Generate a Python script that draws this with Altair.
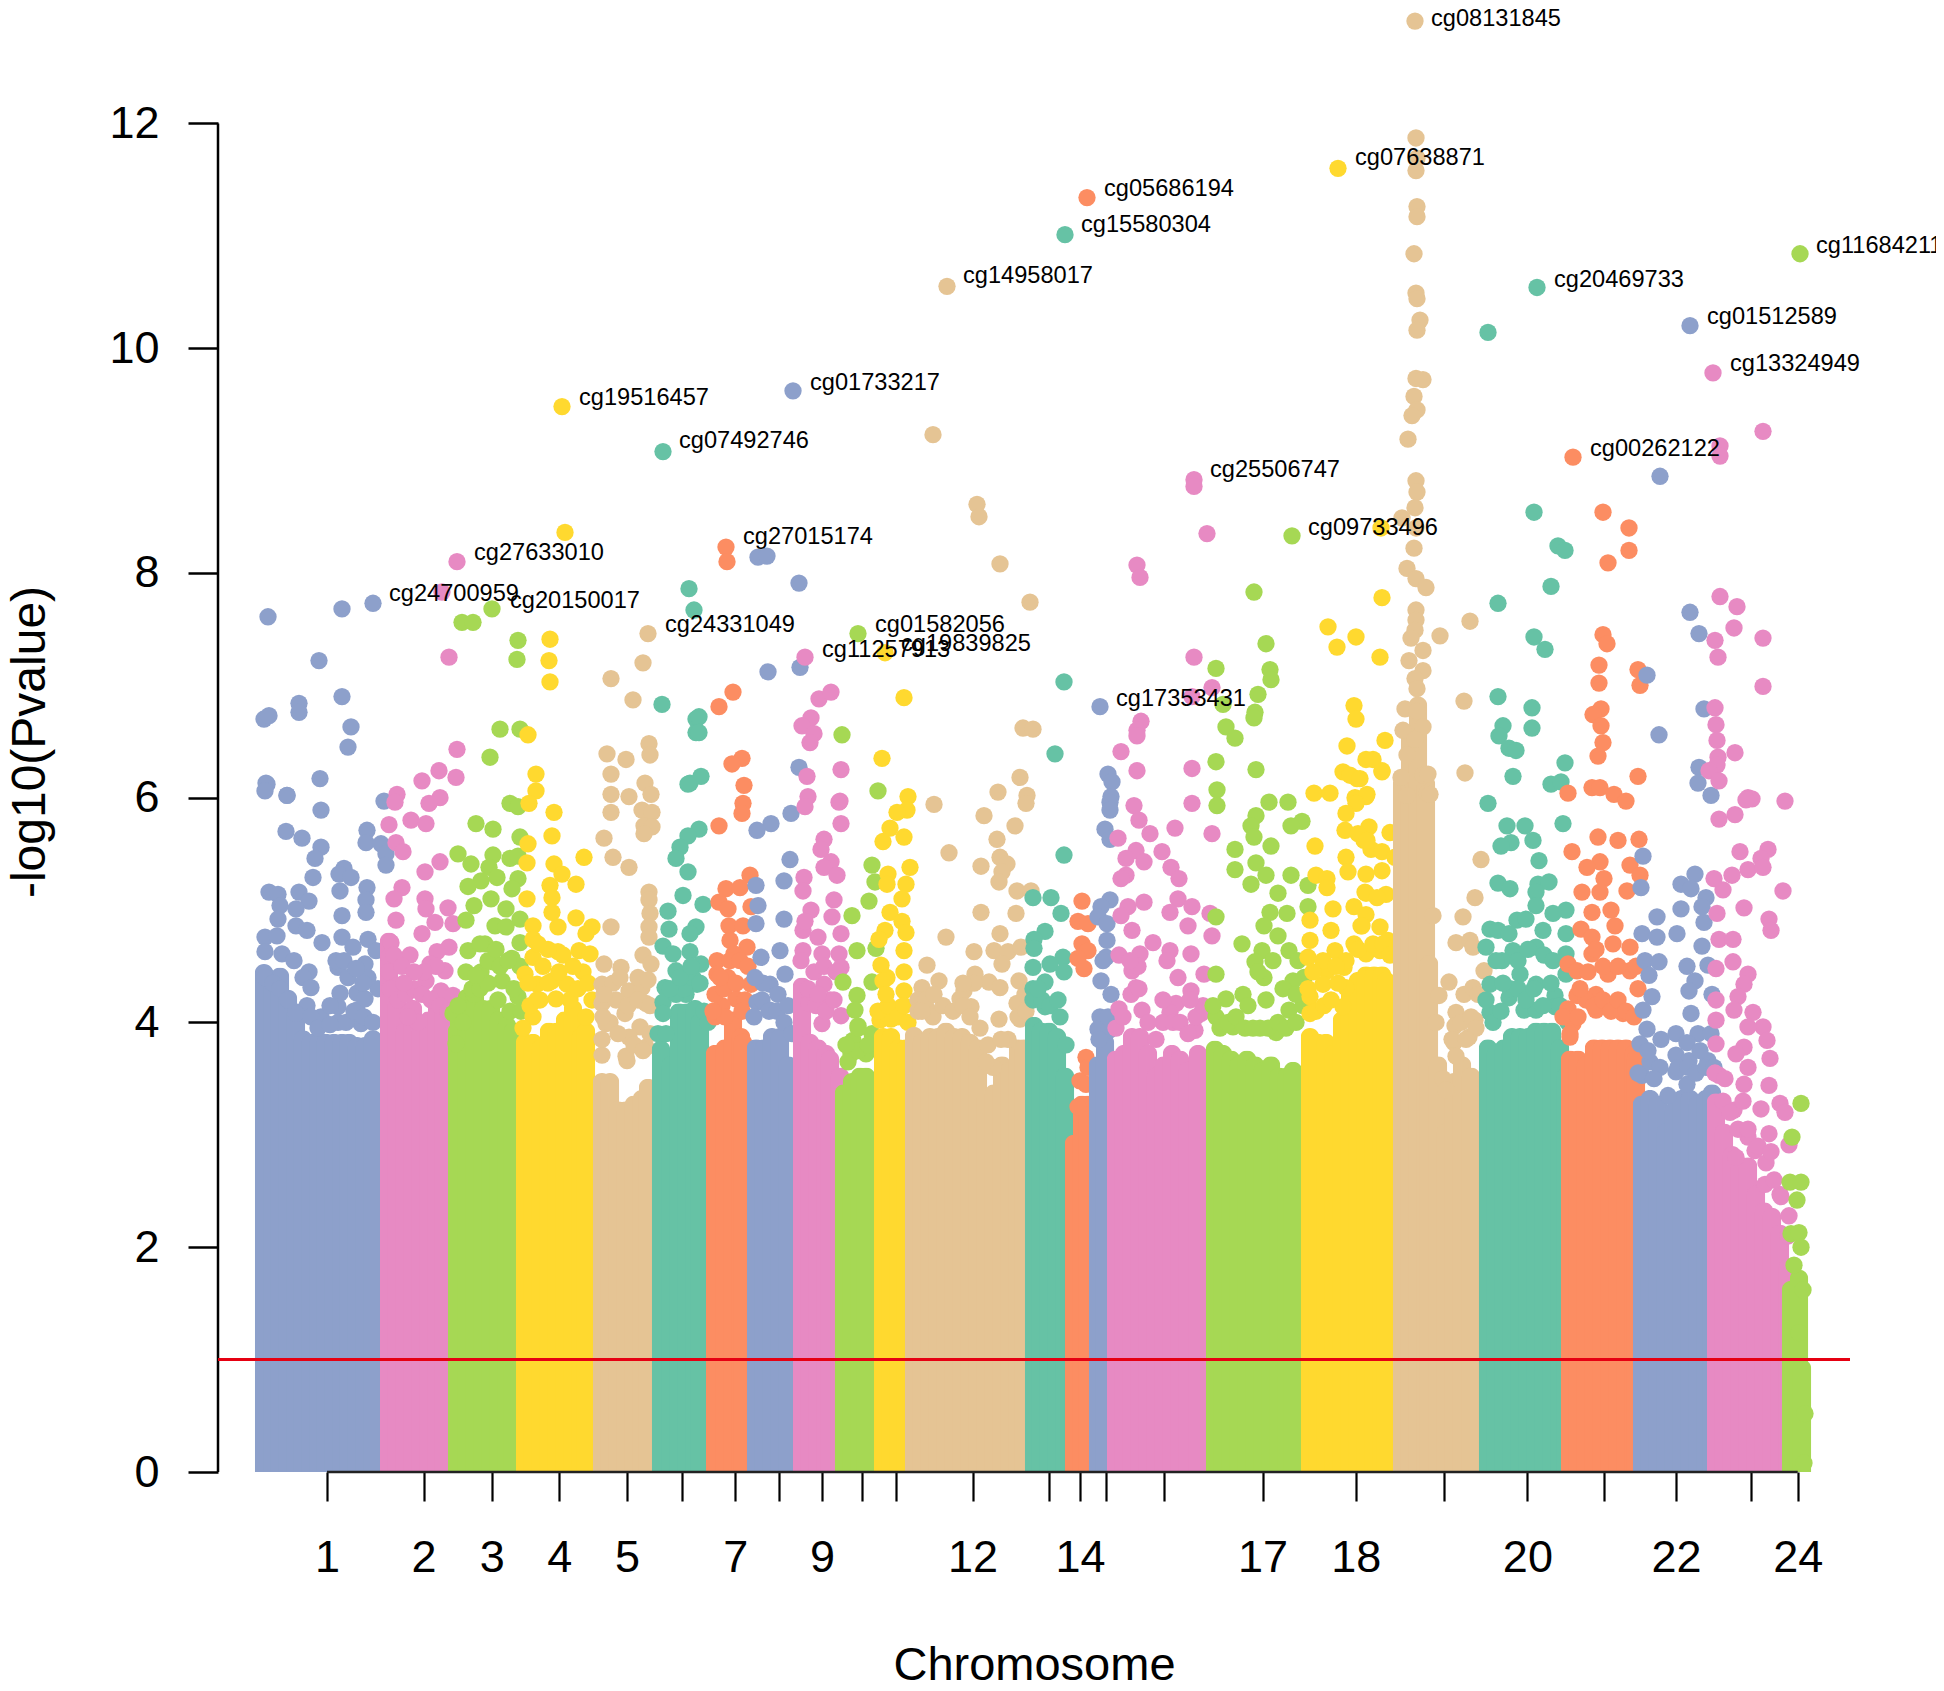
import altair as alt
import pandas as pd

FONT = "Liberation Sans"
palette = ["#8DA0CB", "#E78AC3", "#A6D854", "#FFD92F", "#E5C494", "#66C2A5", "#FC8D62"]

tick_positions = [109, 205.5, 273.7, 341.3, 409, 464.4, 517.3, 560.7, 604, 643.6, 678, 754.6,
                  831.4, 862, 888, 946.4, 1044.5, 1137.8, 1226.3, 1309.4, 1386.4, 1458, 1533.3, 1579.7]
tick_labels = ["1", "2", "3", "4", "5", "", "7", "", "9", "", "", "12",
               "", "14", "", "", "17", "18", "", "20", "", "22", "", "24"]
y_ticks = [0, 2, 4, 6, 8, 10, 12]
threshold = 1

# (position, top of the solid column)
chr01_cols = [(46,4.52),(47,4.5),(55,4.46),(62,4.49),(70,4.29),(78,4.17),(85,3.93),(93,3.9),(101,3.9),(108,3.9),(116,3.9),(124,3.9),(131,3.9),(139,3.87),(147,3.87),(155,3.93)]
chr02_cols = [(171,4.8),(179,4.25),(187,4.0),(195,4.2),(203,4.0),(211,4.1),(219,4.3),(226,4.3)]
chr03_cols = [(239,4.0),(241,4.15),(249,4.3),(257,4.3),(265,4.2),(273,4.2),(281,4.1),(289,4.05),(295,4.0)]
chr04_cols = [(307,3.9),(315,3.9),(323,3.85),(331,4.0),(339,4.0),(347,4.1),(355,4.2),(363,3.95),(368,4.0)]
chr05_cols = [(384,3.55),(392,3.55),(400,3.3),(408,3.3),(416,3.35),(424,3.4),(430,3.5)]
chr06_cols = [(443,3.84),(453,3.7),(461,4.17),(469,4.17),(477,4.2),(482,4.08)]
chr07_cols = [(497,3.8),(507,3.85),(515,4.1),(523,3.95),(525,3.9)]
chr08_cols = [(538,3.85),(546,3.85),(554,3.95),(562,3.95),(570,3.7)]
chr09_cols = [(584,4.4),(592,3.9),(600,3.85),(608,3.8),(612,3.75),(622,3.6)]
chr10_cols = [(626,3.45),(634,3.55),(642,3.6),(648,3.6)]
chr11_cols = [(665,3.95),(673,3.95),(681,3.85),(688,3.85)]
chr12_cols = [(696,3.96),(704,3.9),(712,3.95),(720,3.95),(728,4.0),(736,3.95),(744,3.95),(752,3.9),(760,3.85),(768,3.4),(776,3.45),(784,3.7),(792,3.65),(800,3.85),(806,3.85)]
chr13_cols = [(816,4.05),(823,4.0),(831,4.0),(839,3.95),(847,3.6)]
chr14_cols = [(856,3.0),(864,3.35),(870,3.35)]
chr15_cols = [(880,3.7),(887,3.9)]
chr16_cols = [(898,3.75),(906,3.8),(914,3.95),(922,3.95),(930,3.8),(938,3.6),(946,3.7),(954,3.8),(962,3.75),(970,3.65),(980,3.8)]
chr17_cols = [(997,3.84),(1005,3.8),(1013,3.75),(1021,3.7),(1029,3.75),(1037,3.7),(1045,3.65),(1053,3.7),(1061,3.6),(1069,3.6),(1075,3.65)]
chr18_cols = [(1092,3.95),(1100,3.9),(1108,3.9),(1116,3.8),(1124,4.1),(1132,4.35),(1140,4.45),(1148,4.5),(1156,4.5),(1164,4.5),(1168,4.45)]
chr19_cols = [(1184,6.2),(1192,6.6),(1200,6.9),(1208,6.2),(1211,4.6),(1220,3.7),(1228,3.1),(1236,3.55),(1244,3.7),(1253,3.6)]
chr20_cols = [(1270,3.85),(1278,3.8),(1286,3.85),(1294,3.95),(1302,3.95),(1310,3.95),(1318,4.0),(1326,4.0),(1334,4.0),(1342,3.85),(1348,3.6)]
chr21_cols = [(1352,3.75),(1360,3.75),(1368,3.7),(1376,3.85),(1384,3.85),(1392,3.85),(1400,3.85),(1408,3.85),(1416,3.8),(1418,3.75)]
chr22_cols = [(1424,3.35),(1432,3.4),(1440,3.35),(1448,3.1),(1456,3.3),(1464,3.4),(1472,3.4),(1480,3.35),(1488,3.4),(1494,3.45)]
chr23_cols = [(1498,3.37),(1506,3.1),(1514,2.9),(1522,2.8),(1530,2.8),(1538,2.55),(1546,2.4),(1554,2.35),(1562,2.2),(1570,1.9)]
chr24_cols = [(1573,1.7),(1581,1.8),(1584,1.0)]

# (position, -log10 p) of the single points
chr01_dots = [(50,7.61),(124,7.68),(155,7.73),(101,7.22),(124,6.9),(133,6.63),(130,6.45),(46,6.7),(51,6.73),(81,6.84),(81,6.76),(48,6.13),(102,6.17),(69,6.02),(166,5.97),(49,6.12),(47,6.06),(69,6.02),(103,5.89),(68,5.7),(84,5.64),(103,5.56),(97,5.46),(95,5.29),(149,5.71),(148,5.6),(163,5.59),(168,5.5),(168,5.4),(126,5.37),(121,5.32),(133,5.29),(122,5.17),(149,5.2),(148,5.09),(148,4.98),(124,4.95),(51,5.16),(60,5.14),(81,5.16),(91,5.08),(62,5.04),(78,5.01),(60,4.92),(78,4.86),(89,4.82),(104,4.71),(124,4.76),(47,4.76),(59,4.77),(150,4.74),(135,4.67),(120,4.49),(118,4.55),(47,4.63),(64,4.61),(76,4.55),(91,4.45),(85,4.4),(93,4.31),(122,4.26),(120,4.14),(139,4.26),(139,4.11),(147,4.21),(89,4.15),(103,4.05),(147,4.52),(158,4.64),(78,4.08),(93,4.05),(143,3.99),(47,4.4),(55,4.35),(62,4.3),(70,4.2),(100,3.95),(120,4.0),(128,4.0),(136,4.1),(146,4.05),(155,4.0),(160,4.3),(112,4.15),(130,4.4),(150,4.4),(145,4.35),(126,4.55),(138,4.48),(112,3.98)]
chr02_dots = [(224,7.83),(239,8.1),(231,7.25),(239,6.43),(179,6.03),(177,5.96),(204,6.15),(221,6.24),(238,6.18),(222,6.0),(211,5.95),(193,5.8),(208,5.77),(171,5.76),(178,5.6),(185,5.52),(222,5.43),(207,5.34),(184,5.2),(176,5.1),(207,5.1),(230,5.02),(178,4.91),(208,5.01),(217,4.89),(235,4.88),(204,4.79),(173,4.71),(231,4.67),(219,4.63),(192,4.6),(171,4.58),(212,4.52),(227,4.46),(208,4.37),(171,4.45),(179,4.33),(223,4.28),(235,4.24),(172,4.3),(180,4.2),(188,4.25),(196,4.3),(204,4.25),(213,4.2),(222,4.15),(230,4.1),(200,4.0),(190,4.05),(176,4.6),(184,4.5),(218,4.5),(206,4.45),(196,4.45),(186,4.35)]
chr03_dots = [(274,7.68),(244,7.56),(255,7.56),(300,7.4),(299,7.23),(282,6.61),(302,6.61),(272,6.36),(292,5.95),(300,5.92),(258,5.77),(275,5.72),(302,5.65),(240,5.5),(253,5.41),(275,5.49),(292,5.46),(300,5.48),(271,5.38),(263,5.26),(279,5.29),(250,5.21),(300,5.28),(294,5.19),(273,5.1),(256,5.04),(288,5.01),(302,4.92),(248,4.91),(277,4.86),(288,4.85),(267,4.7),(250,4.64),(302,4.71),(294,4.57),(275,4.54),(263,4.45),(284,4.37),(300,4.23),(256,4.25),(235,4.08),(238,3.81),(245,4.0),(254,4.3),(262,4.3),(270,4.35),(280,4.2),(292,4.1),(296,4.3),(303,4.1),(240,4.15),(248,4.45),(258,4.42),(270,4.55),(282,4.5),(302,4.5),(290,4.55),(278,4.65),(262,4.7)]
chr04_dots = [(344,9.48),(347,8.36),(332,7.41),(331,7.22),(332,7.03),(310,6.56),(318,6.21),(318,6.06),(311,5.95),(336,5.87),(334,5.66),(310,5.59),(366,5.47),(309,5.42),(336,5.41),(344,5.32),(358,5.23),(332,5.22),(309,5.1),(334,5.11),(334,4.98),(358,4.93),(374,4.85),(368,4.79),(315,4.86),(315,4.74),(340,4.85),(340,4.63),(361,4.64),(372,4.61),(315,4.58),(307,4.43),(334,4.37),(319,4.34),(365,4.45),(349,4.34),(338,4.21),(319,4.2),(315,4.05),(305,3.95),(312,4.15),(322,4.2),(330,4.35),(341,4.45),(352,4.2),(360,4.3),(368,4.05),(374,4.2),(325,4.5),(345,4.6),(330,4.65),(310,4.35),(320,4.7),(355,4.5),(370,4.35)]
chr05_dots = [(430,7.46),(425,7.2),(393,7.06),(415,6.87),(431,6.48),(432,6.38),(389,6.39),(408,6.34),(393,6.21),(427,6.13),(393,6.03),(411,6.01),(433,6.03),(393,5.87),(424,5.89),(434,5.87),(426,5.75),(434,5.74),(426,5.68),(386,5.64),(395,5.47),(411,5.38),(431,5.16),(431,5.09),(432,4.97),(393,4.85),(431,4.85),(431,4.76),(425,4.6),(433,4.52),(386,4.52),(403,4.49),(384,4.34),(411,4.28),(424,4.31),(428,4.17),(384,4.17),(407,4.08),(388,3.99),(422,3.96),(411,3.87),(384,3.71),(409,3.66),(428,3.78),(384,3.85),(392,4.0),(400,3.9),(408,3.7),(416,3.8),(425,3.75),(432,3.9),(385,4.05),(398,4.2),(410,4.15),(420,4.2),(432,4.15),(395,4.35),(402,4.4),(386,4.25),(420,4.4),(430,4.38)]
chr06_dots = [(445,9.08),(471,7.86),(476,7.67),(444,6.83),(478,6.7),(478,6.58),(472,6.13),(483,6.19),(481,6.72),(481,6.58),(470,6.12),(481,5.72),(470,5.66),(462,5.56),(458,5.46),(470,5.34),(465,5.13),(485,5.05),(450,4.99),(451,4.83),(478,4.85),(472,4.79),(445,4.68),(472,4.63),(455,4.61),(483,4.52),(458,4.46),(479,4.34),(447,4.31),(445,4.18),(445,4.08),(468,4.25),(440,3.9),(448,3.9),(458,4.25),(466,4.3),(475,4.4),(486,4.1),(490,4.0),(452,4.3),(462,4.4),(473,4.5),(482,4.35)]
chr07_dots = [(508,8.23),(509,8.1),(515,6.94),(501,6.81),(524,6.35),(514,6.3),(526,6.11),(525,5.95),(524,5.86),(501,5.75),(532,5.31),(508,5.19),(522,5.2),(501,5.07),(510,5.01),(533,5.03),(511,4.86),(525,4.86),(512,4.73),(529,4.67),(499,4.55),(516,4.61),(499,4.43),(510,4.4),(533,4.34),(518,4.21),(504,4.15),(497,4.05),(497,4.25),(506,4.3),(518,4.35),(527,4.2),(502,4.4),(512,4.55),(522,4.55),(530,4.5),(507,4.05),(524,4.1),(495,4.1)]
chr08_dots = [(575,9.62),(540,8.14),(549,8.15),(581,7.91),(550,7.12),(582,7.16),(581,6.27),(573,5.86),(553,5.77),(539,5.71),(572,5.45),(566,5.26),(538,5.22),(540,5.04),(566,4.92),(538,4.88),(562,4.64),(543,4.58),(552,4.34),(567,4.43),(539,4.18),(552,4.11),(536,4.05),(544,4.2),(551,4.1),(559,4.1),(566,4.0),(574,3.9),(545,4.35),(560,4.25),(537,4.4),(570,4.15)]
chr09_dots = [(587,7.25),(601,6.88),(613,6.94),(593,6.71),(584,6.64),(596,6.57),(592,6.49),(623,6.25),(589,6.19),(590,6.01),(622,5.97),(587,5.92),(621,5.96),(623,5.77),(606,5.63),(603,5.54),(613,5.43),(606,5.38),(619,5.31),(586,5.29),(585,5.17),(616,5.09),(593,5.0),(614,4.94),(623,4.79),(600,4.76),(585,4.82),(585,4.64),(604,4.61),(621,4.61),(623,4.49),(606,4.34),(612,4.2),(623,4.06),(591,4.17),(604,3.99),(590,4.3),(598,4.15),(608,4.1),(616,4.2),(583,4.55),(596,4.45),(606,4.5),(618,4.45),(587,4.9),(600,4.25)]
chr10_dots = [(640,7.46),(624,6.56),(660,6.06),(654,5.4),(657,5.25),(651,5.08),(634,4.95),(658,4.66),(639,4.64),(625,4.36),(654,4.36),(639,4.24),(637,4.11),(640,3.97),(635,3.84),(654,3.9),(633,3.72),(648,3.72),(630,3.65),(640,3.75),(650,3.8),(628,3.8),(640,3.95)]
chr11_dots = [(667,7.29),(686,6.89),(664,6.35),(690,6.01),(689,5.89),(679,5.87),(672,5.73),(686,5.65),(665,5.61),(692,5.38),(670,5.32),(669,5.23),(688,5.23),(684,5.1),(672,4.98),(684,4.9),(667,4.82),(661,4.74),(688,4.8),(686,4.64),(663,4.51),(686,4.45),(669,4.4),(665,4.37),(686,4.28),(684,4.14),(662,4.02),(673,4.03),(660,4.1),(670,4.15),(680,4.05),(690,4.0),(668,4.25),(686,4.15)]
chr12_dots = [(729,10.55),(715,9.23),(759,8.61),(761,8.5),(782,8.08),(812,7.74),(805,6.62),(815,6.61),(802,6.18),(780,6.05),(809,6.02),(716,5.94),(808,5.95),(766,5.84),(797,5.75),(779,5.63),(731,5.51),(763,5.39),(782,5.47),(789,5.41),(784,5.34),(781,5.25),(799,5.17),(813,5.17),(763,4.98),(798,4.97),(782,4.79),(728,4.76),(756,4.63),(776,4.64),(790,4.63),(803,4.67),(784,4.52),(709,4.51),(721,4.37),(757,4.43),(771,4.36),(782,4.31),(801,4.37),(704,4.31),(746,4.28),(700,4.2),(742,4.21),(753,4.14),(799,4.17),(709,4.12),(781,4.03),(802,4.03),(807,4.25),(700,4.1),(708,4.2),(715,4.05),(725,4.15),(735,4.1),(745,4.15),(752,4.05),(762,3.95),(770,3.8),(790,3.85),(800,4.05),(808,4.1),(783,3.85),(775,3.6),(768,3.65),(704,4.1),(716,4.25),(756,4.35),(745,4.35)]
chr13_dots = [(847,11.01),(846,7.03),(837,6.39),(846,5.49),(815,5.11),(833,5.11),(843,4.97),(827,4.81),(816,4.74),(816,4.66),(845,4.58),(832,4.52),(815,4.49),(846,4.45),(827,4.36),(815,4.3),(827,4.14),(815,4.2),(824,4.2),(832,4.15),(842,4.05),(848,3.8),(820,4.3),(840,4.2)]
chr14_dots = [(869,11.34),(864,5.08),(860,4.9),(870,4.88),(864,4.7),(870,4.64),(860,4.57),(866,4.48),(868,3.69),(870,3.6),(862,3.48),(860,3.25),(868,3.45)]
chr15_dots = [(882,6.81),(890,6.21),(894,6.14),(893,6.01),(892,5.96),(892,5.89),(887,5.72),(892,5.63),(892,5.09),(883,5.03),(880,4.94),(889,4.88),(889,4.73),(888,4.58),(885,4.55),(883,4.37),(893,4.25),(882,4.05),(880,3.94),(891,3.93),(881,3.85),(890,4.05)]
chr16_dots = [(976,8.83),(976,8.77),(989,8.35),(919,8.07),(922,7.96),(976,7.25),(994,6.98),(974,6.9),(923,6.68),(919,6.6),(919,6.55),(903,6.41),(919,6.24),(974,6.26),(974,5.95),(994,5.68),(916,5.93),(921,5.8),(932,5.68),(957,5.73),(900,5.64),(944,5.52),(918,5.53),(908,5.46),(926,5.43),(953,5.38),(961,5.28),(908,5.31),(903,5.28),(960,5.1),(974,5.03),(992,4.97),(926,5.07),(910,5.03),(903,4.95),(952,4.98),(970,4.86),(994,4.77),(914,4.82),(935,4.71),(973,4.61),(901,4.6),(922,4.61),(952,4.64),(949,4.55),(914,4.46),(986,4.43),(918,4.31),(973,4.28),(958,4.17),(901,4.12),(983,4.08),(952,4.09),(924,4.11),(977,3.93),(898,3.95),(905,4.05),(913,4.25),(921,4.3),(930,4.0),(938,3.85),(945,4.0),(955,4.0),(962,4.0),(970,3.9),(978,4.05),(985,4.15),(920,4.5),(945,4.2),(960,4.4),(972,4.2),(912,4.55)]
chr17_dots = [(1074,8.33),(1036,7.83),(1048,7.37),(998,7.15),(1052,7.14),(1053,7.05),(1040,6.92),(1005,6.83),(1037,6.76),(1036,6.71),(1008,6.63),(1017,6.53),(998,6.32),(1038,6.25),(999,6.07),(999,5.93),(1051,5.96),(1070,5.96),(1038,5.84),(1033,5.75),(1036,5.65),(1084,5.79),(1073,5.75),(1053,5.57),(1017,5.54),(1017,5.36),(1038,5.42),(1048,5.31),(1033,5.23),(1073,5.31),(1090,5.22),(1060,5.15),(998,4.94),(1090,5.03),(1052,4.98),(1069,4.97),(1046,4.86),(1024,4.7),(1060,4.77),(1044,4.64),(1071,4.64),(1037,4.54),(998,4.43),(1046,4.4),(1086,4.4),(1075,4.37),(1008,4.21),(1025,4.25),(1071,4.11),(1015,3.96),(1058,3.91),(998,4.05),(995,4.15),(1002,3.95),(1010,4.0),(1018,4.05),(1027,3.95),(1035,3.95),(1042,3.95),(1050,3.95),(1060,4.0),(1068,3.95),(1078,4.0),(1085,4.15),(1030,4.15),(1048,4.2),(1065,4.3),(1078,4.25),(1040,4.45),(1080,4.55),(1055,4.55)]
chr18_dots = [(1120,11.6),(1163,8.4),(1164,7.78),(1110,7.52),(1119,7.34),(1138,7.43),(1162,7.25),(1136,6.82),(1138,6.7),(1167,6.51),(1129,6.46),(1148,6.34),(1155,6.34),(1125,6.23),(1164,6.24),(1139,6.17),(1096,6.04),(1112,6.04),(1148,6.01),(1137,6.0),(1132,6.2),(1142,6.17),(1149,6.03),(1138,5.95),(1128,5.86),(1151,5.74),(1127,5.71),(1097,5.57),(1146,5.62),(1153,5.54),(1128,5.47),(1098,5.31),(1109,5.28),(1148,5.32),(1130,5.34),(1109,5.2),(1148,5.15),(1115,5.01),(1136,5.03),(1148,4.96),(1144,4.86),(1113,4.82),(1092,4.91),(1092,4.73),(1117,4.64),(1136,4.7),(1148,4.61),(1126,4.49),(1109,4.46),(1090,4.58),(1128,4.31),(1092,4.23),(1105,4.34),(1092,4.08),(1125,4.14),(1164,6.23),(1172,5.69),(1140,5.68),(1149,5.62),(1164,5.52),(1177,5.47),(1164,5.35),(1168,5.14),(1147,5.16),(1159,5.11),(1143,4.86),(1162,4.85),(1170,4.73),(1138,4.67),(1162,4.64),(1090,4.3),(1098,4.1),(1106,4.15),(1113,4.2),(1120,4.35),(1128,4.55),(1105,4.55),(1118,4.5),(1095,4.45),(1140,4.65),(1155,4.7),(1165,4.7),(1172,4.6)]
chr19_dots = [(1197,12.91),(1198,11.87),(1199,11.69),(1198,11.58),(1199,11.26),(1199,11.17),(1196,10.84),(1198,10.49),(1199,10.44),(1202,10.25),(1199,10.16),(1198,9.73),(1205,9.72),(1196,9.57),(1199,9.45),(1194,9.4),(1190,9.19),(1198,8.82),(1199,8.72),(1197,8.58),(1184,8.49),(1198,8.4),(1196,8.22),(1189,8.04),(1198,7.95),(1208,7.87),(1198,7.67),(1198,7.58),(1197,7.49),(1193,7.42),(1252,7.57),(1222,7.44),(1205,7.31),(1191,7.22),(1205,7.13),(1197,7.06),(1199,6.97),(1187,6.79),(1199,6.77),(1246,6.86),(1205,6.63),(1185,6.6),(1197,6.52),(1189,6.38),(1205,6.2),(1183,6.18),(1247,6.22),(1209,6.04),(1189,6.02),(1210,6.21),(1212,6.03),(1263,5.45),(1257,5.11),(1245,4.94),(1215,4.95),(1238,4.71),(1252,4.73),(1255,4.67),(1266,4.46),(1231,4.36),(1221,4.24),(1246,4.25),(1255,4.31),(1238,4.09),(1257,4.02),(1237,3.97),(1236,3.82),(1251,3.87),(1218,4.0),(1225,3.5),(1234,3.85),(1243,4.0),(1253,4.05),(1258,3.95),(1260,4.25),(1228,3.4),(1238,3.7),(1248,3.85)]
chr20_dots = [(1319,10.54),(1270,10.14),(1316,8.54),(1340,8.24),(1347,8.2),(1333,7.88),(1280,7.73),(1316,7.43),(1327,7.32),(1280,6.9),(1314,6.8),(1314,6.62),(1285,6.64),(1281,6.55),(1291,6.44),(1298,6.42),(1347,6.31),(1295,6.19),(1333,6.12),(1343,6.14),(1270,5.95),(1289,5.75),(1307,5.75),(1345,5.77),(1315,5.62),(1293,5.6),(1283,5.57),(1321,5.44),(1280,5.24),(1292,5.19),(1320,5.23),(1331,5.25),(1318,5.16),(1318,5.04),(1348,5.0),(1299,4.91),(1308,4.92),(1335,4.97),(1272,4.83),(1280,4.82),(1348,4.79),(1291,4.79),(1325,4.82),(1268,4.67),(1318,4.67),(1295,4.64),(1284,4.55),(1348,4.61),(1348,4.43),(1302,4.43),(1318,4.34),(1337,4.24),(1272,4.34),(1291,4.22),(1272,4.09),(1306,4.11),(1337,4.14),(1318,4.11),(1268,4.2),(1275,4.0),(1283,4.1),(1292,4.3),(1300,4.3),(1308,4.2),(1316,4.3),(1325,4.15),(1333,4.35),(1342,4.15),(1350,4.0),(1285,4.35),(1300,4.55),(1310,4.65),(1326,4.6),(1335,4.55),(1278,4.55)]
chr21_dots = [(1355,9.03),(1385,8.54),(1411,8.4),(1411,8.2),(1390,8.09),(1385,7.45),(1389,7.37),(1381,7.18),(1420,7.14),(1381,7.02),(1422,7.0),(1383,6.79),(1375,6.74),(1383,6.64),(1385,6.49),(1380,6.37),(1420,6.19),(1350,6.04),(1374,6.09),(1382,6.09),(1396,6.03),(1408,5.97),(1380,5.65),(1400,5.62),(1421,5.63),(1354,5.52),(1382,5.43),(1369,5.38),(1412,5.4),(1422,5.31),(1386,5.28),(1364,5.16),(1382,5.16),(1409,5.17),(1374,4.98),(1393,5.0),(1363,4.83),(1397,4.86),(1374,4.76),(1412,4.67),(1374,4.61),(1350,4.52),(1359,4.46),(1390,4.43),(1412,4.46),(1420,4.3),(1359,4.24),(1378,4.25),(1350,4.12),(1405,4.08),(1355,3.99),(1378,4.11),(1352,3.87),(1345,4.05),(1352,3.9),(1360,4.05),(1368,4.2),(1376,4.15),(1385,4.2),(1393,4.1),(1400,4.2),(1408,4.1),(1416,4.05),(1370,4.45),(1385,4.5),(1400,4.5),(1418,4.5),(1362,4.3),(1378,4.65),(1395,4.7)]
chr22_dots = [(1472,10.2),(1442,8.86),(1472,7.65),(1481,7.46),(1429,7.09),(1486,6.79),(1441,6.56),(1481,6.27),(1480,6.13),(1493,6.02),(1425,5.48),(1423,5.2),(1477,5.32),(1463,5.23),(1473,5.19),(1488,5.11),(1463,5.01),(1484,5.03),(1439,4.94),(1486,4.89),(1424,4.79),(1439,4.76),(1459,4.79),(1484,4.68),(1427,4.55),(1441,4.54),(1469,4.5),(1490,4.51),(1431,4.42),(1477,4.37),(1471,4.28),(1494,4.25),(1434,4.23),(1425,4.11),(1473,4.08),(1429,3.94),(1443,3.85),(1422,3.81),(1458,3.9),(1480,3.9),(1469,3.82),(1458,3.71),(1471,3.66),(1458,3.56),(1469,3.45),(1424,3.53),(1490,3.66),(1420,3.55),(1432,3.65),(1442,3.6),(1450,3.35),(1460,3.6),(1470,3.6),(1478,3.55),(1488,3.6),(1496,3.6),(1430,3.75),(1482,3.75),(1436,3.5),(1493,3.9)]
chr23_dots = [(1495,9.78),(1545,9.26),(1502,9.13),(1502,9.04),(1502,7.79),(1519,7.7),(1516,7.51),(1497,7.4),(1545,7.42),(1500,7.25),(1545,6.99),(1497,6.8),(1498,6.65),(1499,6.51),(1500,6.36),(1517,6.4),(1499,6.29),(1491,6.24),(1501,6.15),(1530,6.0),(1534,5.99),(1567,5.97),(1528,5.98),(1517,5.85),(1501,5.81),(1522,5.52),(1550,5.54),(1543,5.46),(1530,5.36),(1545,5.38),(1514,5.31),(1496,5.28),(1505,5.18),(1565,5.17),(1526,5.02),(1499,4.97),(1551,4.92),(1553,4.82),(1501,4.74),(1515,4.74),(1515,4.54),(1498,4.48),(1530,4.43),(1526,4.34),(1520,4.23),(1498,4.2),(1516,4.11),(1535,4.09),(1545,3.96),(1498,4.02),(1549,3.84),(1530,3.96),(1552,3.68),(1498,3.81),(1526,3.78),(1518,3.72),(1530,3.6),(1501,3.53),(1551,3.44),(1526,3.45),(1562,3.28),(1543,3.23),(1567,3.2),(1516,3.22),(1530,2.98),(1551,3.01),(1571,2.91),(1537,2.86),(1547,2.56),(1562,2.47),(1571,2.28),(1518,2.8),(1497,3.55),(1505,3.3),(1512,3.2),(1520,3.05),(1530,3.05),(1540,2.9),(1548,2.75),(1556,2.6),(1563,2.45),(1570,2.1),(1507,3.5),(1525,3.3),(1553,2.85)]
chr24_dots = [(1582,10.84),(1583,3.28),(1574,2.98),(1572,2.58),(1583,2.58),(1579,2.42),(1573,2.12),(1581,2.13),(1583,2.0),(1576,1.84),(1585,1.62),(1581,1.24),(1587,0.52),(1586,0.08)]

all_cols = [chr01_cols, chr02_cols, chr03_cols, chr04_cols, chr05_cols, chr06_cols, chr07_cols, chr08_cols,
            chr09_cols, chr10_cols, chr11_cols, chr12_cols, chr13_cols, chr14_cols, chr15_cols, chr16_cols,
            chr17_cols, chr18_cols, chr19_cols, chr20_cols, chr21_cols, chr22_cols, chr23_cols, chr24_cols]
all_dots = [chr01_dots, chr02_dots, chr03_dots, chr04_dots, chr05_dots, chr06_dots, chr07_dots, chr08_dots,
            chr09_dots, chr10_dots, chr11_dots, chr12_dots, chr13_dots, chr14_dots, chr15_dots, chr16_dots,
            chr17_dots, chr18_dots, chr19_dots, chr20_dots, chr21_dots, chr22_dots, chr23_dots, chr24_dots]

cpg_names = ["cg08131845","cg07638871","cg05686194","cg15580304","cg14958017","cg11684211","cg20469733","cg01512589",
             "cg13324949","cg01733217","cg19516457","cg07492746","cg00262122","cg25506747","cg09733496","cg27015174",
             "cg27633010","cg24700959","cg20150017","cg24331049","cg01582056","cg19839825","cg11257913","cg17353431"]
cpg_pos = [1213,1137,886,863,745,1598,1336,1489,1512,592,361,461,1372,992,1090,525,256,171,292,447,657,683,604,898]
cpg_val = [12.93,11.69,11.42,11.10,10.64,10.91,10.61,10.28,9.86,9.69,9.56,9.17,9.10,8.92,8.40,8.32,8.18,7.81,7.75,7.54,7.54,7.37,7.31,6.88]

PLOT_W = 1718
x_scale = alt.Scale(domain=[0, PLOT_W], range=[0, PLOT_W], nice=False, zero=False, padding=0)
y_scale = alt.Scale(domain=[0, 13], range=[1461, 0], nice=False)

label_expr = "[" + ",".join(f"'{t}'" for t in tick_labels) + "][indexof([" + ",".join(str(t) for t in tick_positions) + "], datum.value)]"
x_axis = alt.Axis(values=tick_positions, labelExpr=label_expr, title="Chromosome", domain=False, grid=False,
                  tickSize=29, tickWidth=2.2, tickColor="black", labelFont=FONT, labelFontSize=45, labelColor="black",
                  labelPadding=34, labelOverlap=False, labelFlush=False, labelAngle=0,
                  titleFont=FONT, titleFontSize=47, titleFontWeight="normal", titleColor="black",
                  titleX=816, titleY=207, titleBaseline="alphabetic")
y_axis = alt.Axis(values=y_ticks, title="-log10(Pvalue)", domain=False, grid=False,
                  tickSize=30, tickWidth=2.5, tickColor="black", labelFont=FONT, labelFontSize=45, labelColor="black",
                  labelPadding=29, labelOverlap=False, labelFlush=False,
                  titleFont=FONT, titleFontSize=48, titleFontWeight="normal", titleColor="black",
                  titleX=-174, titleBaseline="alphabetic")

X = alt.X("pos:Q", scale=x_scale, axis=x_axis)
Y = alt.Y("val:Q", scale=y_scale, axis=y_axis)

layers = []
for i, (cols, dots) in enumerate(zip(all_cols, all_dots)):
    colour = palette[i % len(palette)]
    col_df = pd.DataFrame(cols, columns=["pos", "val"])
    dot_df = pd.DataFrame(dots, columns=["pos", "val"])
    layers.append(alt.Chart(col_df).mark_bar(width=18.5, orient="vertical", color=colour,
                                             cornerRadiusTopLeft=9, cornerRadiusTopRight=9).encode(x=X, y=Y))
    layers.append(alt.Chart(dot_df).mark_circle(size=300, color=colour, opacity=1).encode(x=X, y=Y))

y_line = alt.Chart(pd.DataFrame({"pos": [0], "val": [y_ticks[0]], "hi": [y_ticks[-1]]})).mark_rule(
    color="black", strokeWidth=2.5).encode(x=X, y=Y, y2="hi:Q")
x_line = alt.Chart(pd.DataFrame({"pos": [tick_positions[0]], "hi": [tick_positions[-1]], "val": [0]})).mark_rule(
    color="#222222", strokeWidth=2.5).encode(x=X, x2="hi:Q", y=Y)
red_line = alt.Chart(pd.DataFrame({"pos": [0], "hi": [1632], "val": [threshold]})).mark_rule(
    color="#E60012", strokeWidth=3).encode(x=X, x2="hi:Q", y=Y)
text_layer = alt.Chart(pd.DataFrame({"pos": cpg_pos, "val": cpg_val, "name": cpg_names})).mark_text(
    font=FONT, fontSize=23.6, color="black", align="left", baseline="middle").encode(x=X, y=Y, text="name:N")

chart = alt.layer(*layers, y_line, x_line, red_line, text_layer).properties(
    width=PLOT_W, height=1461,
    padding={"left": 210, "top": 3, "right": 0, "bottom": 209},
    autosize=alt.AutoSizeParams(type="none"),
).configure_view(stroke=None)

chart.save("out.html", embed_options={"renderer": "svg", "actions": False})
